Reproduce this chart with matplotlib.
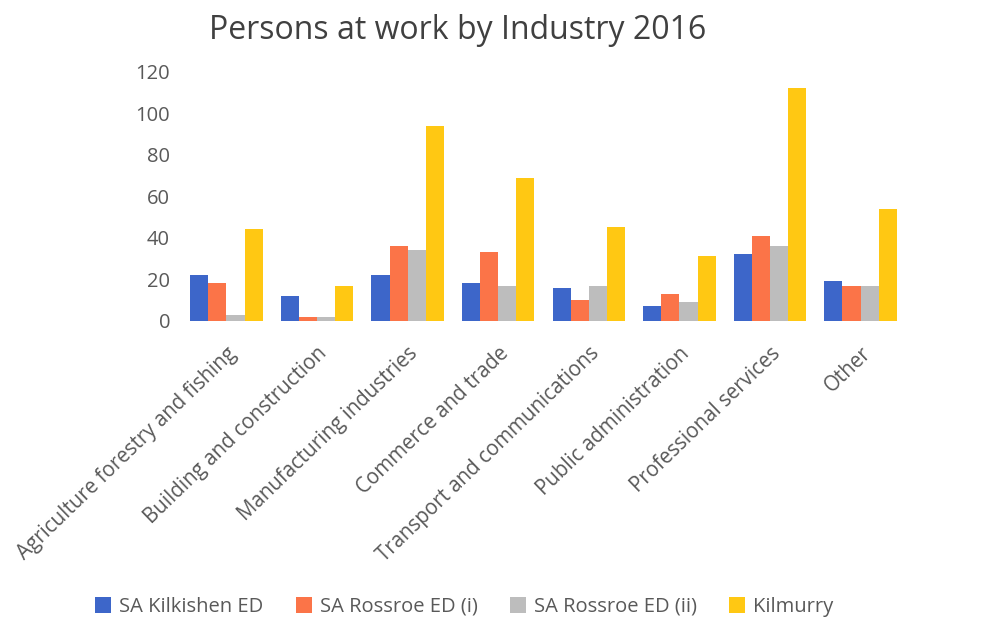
import matplotlib.pyplot as plt
import numpy as np

# Dados
industrias = ['Agriculture forestry and fishing', 'Building and construction',
              'Manufacturing industries', 'Commerce and trade',
              'Transport and communications', 'Public administration',
              'Professional services', 'Other']
kilkishen = [22, 12, 22, 18, 16, 7, 32, 19]
rossroe_i = [18, 2, 36, 33, 10, 13, 41, 17]
rossroe_ii = [3, 2, 34, 17, 17, 9, 36, 17]
kilmurry = [44, 17, 94, 69, 45, 31, 112, 54]

series = ['SA Kilkishen ED', 'SA Rossroe ED (i)', 'SA Rossroe ED (ii)', 'Kilmurry']
cores = ['#3d66c9', '#fb7448', '#bdbdbd', '#ffc813']

plt.rcParams['font.family'] = ['Open Sans', 'DejaVu Sans']

fig = plt.figure(figsize=(9.9, 6.29), dpi=100)
ax = fig.add_axes([0.183, 0.49, 0.732, 0.396])

x = np.arange(len(industrias))
w = 0.2
for i, (nome, vals) in enumerate(zip(series, [kilkishen, rossroe_i, rossroe_ii, kilmurry])):
    ax.bar(x + (i - 1.5) * w, vals, w, color=cores[i], label=nome)

ax.set_xlim(-0.5, len(industrias) - 0.5)
ax.set_ylim(0, 120)
ax.set_yticks(range(0, 121, 20))
for s in ax.spines.values():
    s.set_visible(False)
ax.tick_params(axis='both', length=0, colors='#595959')
ax.tick_params(axis='y', pad=8, labelsize=14.5)
ax.tick_params(axis='x', pad=16)
ax.set_xticks(x)
ax.set_xticklabels(industrias, rotation=44, ha='right', rotation_mode='anchor',
                   fontsize=14.8, color='#595959')

fig.suptitle('Persons at work by Industry 2016', x=0.462, y=0.952, va='center',
             fontsize=23, color='#404040')

fig.legend(loc='center', bbox_to_anchor=(0.469, 0.035), ncol=4, frameon=False,
           fontsize=14.5, handlelength=0.8, handleheight=0.8, columnspacing=1.6,
           handletextpad=0.4, labelcolor='#595959')

fig.savefig('out.png', dpi=100)
